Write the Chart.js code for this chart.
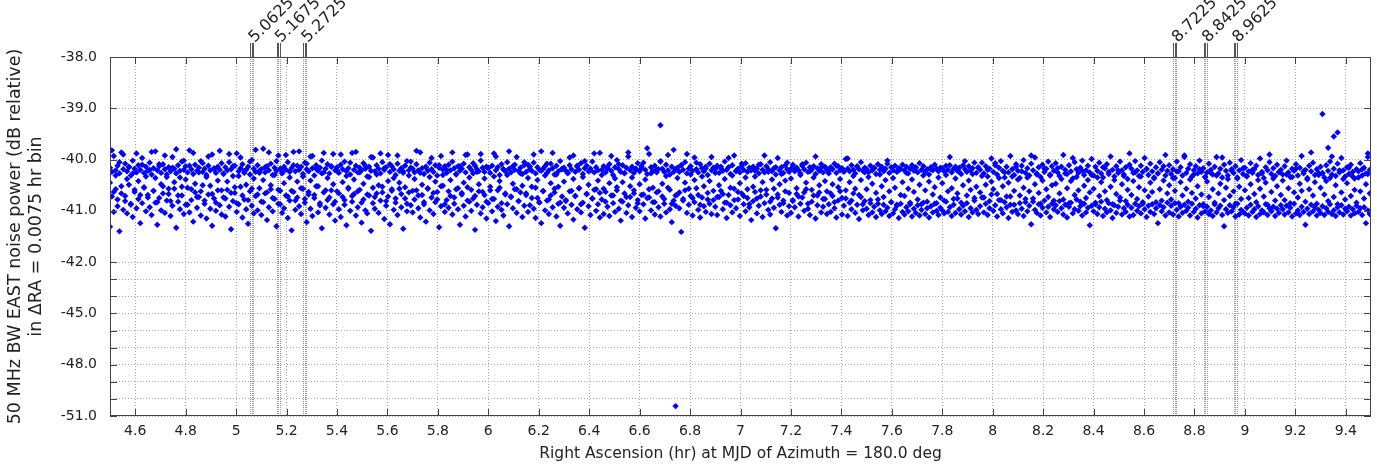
<!DOCTYPE html>
<html>
<head>
<meta charset="utf-8">
<script src="https://cdn.jsdelivr.net/npm/chart.js@4.4.1/dist/chart.umd.min.js"></script>
<style>
  html, body { margin: 0; padding: 0; background: #fff; }
</style>
</head>
<body>
<canvas id="noiseChart" width="1377" height="469"></canvas>
<script>
// RA bins: first bin at 4.5 hr, width 0.0075 hr (as in the axis title)
const binStart = 4.5;
const binWidth = 0.0075;

// noise power per RA bin (dB), three passes over the same RA range
const dayA = [
  -40.16,-40.24,-39.93,-40.21,-40.12,-40.27,-39.86,-40.19,-40.08,-40.23,-40.15,-40.31,-40.02,-40.18,-40.25,-40.11,-40.20,-39.97,-40.26,-40.14,
  -40.22,-40.06,-40.29,-40.17,-39.84,-40.21,-40.13,-40.26,-40.09,-40.19,-40.34,-40.15,-40.23,-39.95,-40.18,-40.27,-40.11,-40.22,-40.04,-40.20,
  -40.13,-40.25,-39.82,-40.19,-40.28,-40.10,-40.22,-40.16,-40.03,-40.24,-40.18,-40.30,-40.12,-40.21,-39.90,-40.17,-40.26,-40.14,-40.20,-40.07,
  -40.27,-40.15,-40.21,-40.05,-40.19,-40.32,-40.12,-39.88,-40.23,-40.17,-40.09,-40.26,-40.20,-40.14,-40.29,-40.01,-40.18,-40.24,-40.11,-40.22,
  -40.19,-39.79,-40.25,-40.13,-40.21,-40.08,-40.30,-40.16,-40.22,-39.92,-40.18,-40.27,-40.14,-40.20,-40.05,-40.24,-40.17,-39.85,-40.23,-40.12,
  -40.20,-40.14,-40.28,-40.06,-40.19,-40.23,-39.94,-40.17,-40.31,-40.11,-40.22,-40.16,-40.02,-40.25,-40.18,-40.09,-40.27,-40.13,-39.89,-40.21,
  -40.15,-40.26,-40.10,-40.19,-40.04,-40.23,-40.17,-40.29,-39.87,-40.20,-40.12,-40.25,-40.16,-40.21,-40.07,-40.18,-40.33,-40.14,-40.22,-39.96,
  -40.23,-40.11,-40.18,-40.27,-40.05,-40.20,-40.15,-39.91,-40.24,-40.13,-40.19,-40.30,-40.08,-40.22,-40.17,-40.26,-40.12,-40.03,-40.21,-40.16,
  -40.18,-40.25,-40.09,-40.21,-39.86,-40.17,-40.28,-40.14,-40.22,-40.06,-40.19,-40.24,-40.11,-40.31,-40.16,-39.93,-40.20,-40.13,-40.26,-40.10,
  -40.21,-40.04,-40.17,-40.29,-40.13,-40.22,-40.18,-40.08,-40.25,-39.90,-40.15,-40.20,-40.27,-40.12,-40.19,-40.23,-40.02,-40.16,-40.24,-40.14,
  -40.17,-40.26,-40.12,-39.88,-40.21,-40.15,-40.30,-40.09,-40.19,-40.23,-40.05,-40.18,-40.25,-40.13,-40.20,-39.95,-40.22,-40.16,-40.28,-40.11,
  -40.24,-40.10,-40.19,-40.22,-40.06,-40.27,-40.15,-40.20,-39.84,-40.18,-40.13,-40.26,-40.21,-40.08,-40.17,-40.29,-40.12,-40.23,-40.03,-40.19,
  -40.16,-40.22,-40.27,-40.11,-40.19,-39.92,-40.24,-40.14,-40.20,-40.07,-40.28,-40.17,-40.12,-40.23,-40.18,-40.04,-40.25,-40.15,-40.21,-39.87,
  -40.20,-40.13,-40.25,-40.18,-40.09,-40.22,-40.30,-40.15,-40.01,-40.19,-40.24,-40.11,-40.27,-40.16,-39.94,-40.21,-40.14,-40.26,-40.18,-40.07,
  -40.23,-40.17,-40.06,-40.20,-40.28,-39.89,-40.15,-40.22,-40.12,-40.25,-40.19,-40.03,-40.18,-40.24,-40.10,-40.21,-40.29,-40.14,-39.81,-40.19,
  -40.16,-40.24,-40.11,-40.20,-40.05,-40.27,-40.18,-40.13,-40.22,-39.96,-40.19,-40.25,-40.09,-40.17,-40.23,-40.14,-40.30,-40.08,-40.21,-40.16,
  -40.19,-40.12,-40.26,-40.17,-40.22,-40.04,-40.20,-40.15,-40.28,-40.11,-39.92,-40.23,-40.18,-40.25,-40.13,-40.20,-40.07,-40.24,-40.16,-40.21,
  -40.14,-40.22,-40.18,-40.27,-40.09,-40.20,-40.25,-40.13,-40.19,-40.05,-40.23,-40.17,-40.29,-39.97,-40.21,-40.15,-40.26,-40.11,-40.19,-40.24,
  -40.18,-40.10,-40.23,-40.16,-40.21,-40.27,-40.12,-40.19,-40.06,-40.24,-40.15,-40.20,-40.13,-40.28,-40.17,-40.22,-40.09,-40.25,-40.14,-40.20,
  -40.22,-40.15,-40.19,-40.08,-40.26,-40.13,-40.21,-40.17,-40.24,-39.99,-40.18,-40.23,-40.11,-40.20,-40.27,-40.14,-40.19,-40.05,-40.22,-40.16,
  -40.19,-40.25,-40.12,-40.21,-40.16,-40.28,-40.09,-40.20,-40.14,-40.23,-40.18,-40.02,-40.26,-40.15,-40.21,-40.12,-40.24,-40.17,-40.19,-40.10,
  -40.21,-40.14,-40.27,-40.18,-40.11,-40.22,-40.16,-40.25,-40.07,-40.20,-40.13,-40.24,-40.19,-40.29,-40.15,-40.21,-40.10,-40.18,-40.23,-40.16,
  -40.17,-40.23,-40.12,-40.20,-39.95,-40.25,-40.18,-40.14,-40.22,-40.16,-40.28,-40.11,-40.19,-40.24,-40.13,-40.21,-40.17,-40.06,-40.26,-40.15,
  -40.20,-40.06,-40.27,-40.13,-40.33,-40.18,-39.98,-40.24,-40.11,-40.29,-40.16,-40.03,-40.22,-40.35,-40.14,-40.25,-39.93,-40.19,-40.30,-40.09,
  -40.22,-40.36,-40.12,-40.01,-40.26,-40.17,-40.31,-40.08,-40.21,-39.96,-40.27,-40.15,-40.34,-40.10,-40.24,-40.18,-40.04,-40.29,-40.13,-40.22,
  -40.07,-40.25,-40.32,-40.14,-39.91,-40.20,-40.28,-40.11,-40.23,-40.37,-40.05,-40.19,-40.26,-40.16,-40.02,-40.30,-40.21,-40.12,-40.25,-39.99,
  -40.31,-40.14,-40.22,-40.06,-40.27,-40.35,-40.17,-40.09,-40.24,-39.94,-40.20,-40.33,-40.13,-40.26,-40.04,-40.21,-40.29,-40.15,-40.38,-40.10,
  -40.18,-40.26,-40.03,-40.21,-40.32,-40.12,-40.24,-39.97,-40.19,-40.30,-40.08,-40.23,-40.35,-40.15,-40.27,-40.05,-40.20,-40.13,-40.31,-40.22,
  -40.11,-40.28,-40.19,-40.36,-40.04,-40.23,-40.15,-40.31,-39.92,-40.26,-40.18,-40.09,-40.33,-40.21,-40.13,-40.27,-40.02,-40.24,-40.17,-40.34,
  -40.25,-40.08,-40.20,-40.29,-40.14,-39.95,-40.27,-40.18,-40.35,-40.10,-40.22,-40.31,-40.06,-40.19,-40.26,-40.13,-40.37,-40.21,-40.01,-40.28,
  -40.16,-40.33,-40.23,-40.07,-40.26,-40.19,-40.12,-40.30,-39.98,-40.24,-40.36,-40.15,-40.21,-40.05,-40.28,-40.17,-40.32,-40.10,-40.25,-40.20,
  -40.29,-40.13,-40.02,-40.25,-40.34,-40.18,-40.22,-40.09,-40.31,-40.16,-39.93,-40.27,-40.20,-40.36,-40.12,-40.23,-40.06,-40.30,-40.19,-40.26,
  -40.14,-40.27,-40.35,-40.11,-40.22,-40.04,-40.29,-40.18,-40.32,-40.08,-40.25,-39.97,-40.21,-40.33,-40.15,-40.28,-40.10,-40.24,-40.37,-40.19,
  -40.23,-40.07,-40.31,-40.16,-40.27,-39.95,-40.20
];

const dayB = [
  -40.45,-39.82,-40.63,-40.31,-40.78,-40.05,-40.52,-39.90,-40.71,-40.38,-40.14,-40.86,-40.27,-40.59,-39.88,-40.42,-40.69,-40.10,-40.55,-40.33,
  -40.74,-40.20,-39.85,-40.61,-40.36,-40.83,-40.09,-40.48,-40.66,-39.92,-40.29,-40.57,-40.81,-40.16,-40.44,-39.80,-40.70,-40.35,-40.53,-40.02,
  -40.39,-40.88,-40.12,-40.58,-39.87,-40.47,-40.73,-40.25,-40.62,-40.07,-40.80,-40.34,-39.94,-40.51,-40.67,-40.19,-40.84,-40.41,-39.83,-40.60,
  -40.28,-40.76,-40.43,-39.89,-40.65,-40.13,-40.54,-40.85,-40.32,-39.96,-40.70,-40.22,-40.49,-40.79,-40.04,-40.57,-40.37,-39.81,-40.68,-40.26,
  -40.82,-40.40,-40.15,-40.64,-39.86,-40.50,-40.75,-40.30,-40.03,-40.59,-40.87,-40.24,-40.46,-39.91,-40.72,-40.35,-40.61,-40.11,-40.80,-40.43,
  -39.84,-40.56,-40.33,-40.77,-40.08,-40.63,-40.41,-39.93,-40.69,-40.18,-40.52,-40.85,-40.27,-39.87,-40.60,-40.36,-40.74,-40.14,-40.48,-40.82,
  -40.21,-40.66,-39.90,-40.44,-40.79,-40.32,-40.57,-40.06,-40.71,-40.39,-39.85,-40.62,-40.25,-40.84,-40.47,-40.12,-40.68,-40.34,-39.95,-40.55,
  -40.73,-40.29,-40.50,-39.88,-40.64,-40.17,-40.81,-40.42,-40.09,-40.58,-40.36,-40.76,-39.92,-40.45,-40.67,-40.23,-40.54,-40.86,-40.31,-40.04,
  -40.61,-40.38,-39.83,-40.70,-40.26,-40.49,-40.83,-40.15,-40.57,-40.34,-39.97,-40.65,-40.43,-40.78,-40.11,-40.52,-40.30,-40.87,-40.20,-40.62,
  -40.40,-39.86,-40.74,-40.28,-40.56,-40.13,-40.68,-40.45,-39.91,-40.80,-40.35,-40.59,-40.07,-40.71,-40.24,-40.48,-39.89,-40.63,-40.37,-40.82,
  -40.16,-40.53,-40.77,-40.33,-39.94,-40.60,-40.42,-40.85,-40.19,-40.66,-40.30,-39.84,-40.72,-40.47,-40.10,-40.58,-40.81,-40.27,-40.51,-40.05,
  -40.69,-40.36,-40.14,-40.75,-39.90,-40.55,-40.40,-40.83,-40.22,-40.62,-40.31,-40.08,-40.78,-40.46,-39.87,-40.64,-40.29,-40.53,-40.84,-40.18,
  -40.43,-40.79,-40.25,-39.96,-40.61,-40.38,-40.71,-40.12,-40.56,-40.87,-40.34,-40.03,-40.67,-40.49,-40.21,-40.76,-39.88,-40.58,-40.41,-40.65,
  -40.30,-40.57,-40.82,-40.15,-40.46,-39.93,-40.70,-40.37,-40.60,-40.09,-40.80,-40.44,-40.26,-40.73,-39.86,-40.52,-40.35,-40.66,-40.19,-40.85,
  -40.48,-40.13,-40.68,-40.39,-39.78,-40.74,-40.27,-40.55,-40.83,-40.20,-40.62,-40.04,-40.47,-40.77,-40.32,-39.91,-40.59,-40.86,-40.24,-40.70,
  -40.36,-40.64,-40.11,-40.80,-40.45,-39.89,-40.57,-40.29,-40.75,-40.40,-40.06,-40.69,-40.88,-40.33,-40.52,-40.17,-40.78,-40.42,-39.95,-40.61,
  -40.26,-40.73,-40.50,-40.14,-40.67,-40.38,-40.84,-39.97,-40.55,-40.31,-40.79,-40.22,-40.63,-40.46,-40.08,-40.71,-40.35,-40.58,-40.87,-40.18,
  -40.53,-40.33,-40.76,-40.10,-40.60,-40.44,-39.92,-40.68,-40.24,-40.82,-40.39,-40.57,-40.15,-40.74,-40.48,-40.28,-40.85,-40.41,-40.06,-40.65,
  -40.37,-40.81,-40.19,-40.56,-40.72,-40.30,-40.09,-40.64,-40.45,-40.86,-40.23,-40.59,-40.35,-39.94,-40.70,-40.50,-40.16,-40.77,-40.42,-40.62,
  -40.27,-40.66,-40.48,-40.83,-40.12,-40.54,-40.38,-40.75,-40.21,-40.60,-39.98,-40.44,-40.80,-40.32,-40.57,-40.13,-40.69,-40.40,-40.87,-40.25,
  -40.58,-40.34,-40.79,-40.47,-40.17,-40.65,-40.86,-40.29,-40.52,-40.73,-40.40,-40.08,-40.62,-40.83,-40.36,-40.55,-40.88,-40.21,-40.69,-40.44,
  -40.71,-40.26,-40.57,-40.84,-40.39,-40.63,-40.15,-40.78,-40.49,-40.87,-40.31,-40.60,-40.82,-40.43,-40.19,-40.68,-40.54,-40.85,-40.35,-40.74,
  -40.46,-40.80,-40.30,-40.62,-40.11,-40.56,-40.77,-40.37,-40.66,-40.24,-40.84,-40.50,-40.03,-40.70,-40.41,-40.59,-40.28,-40.75,-40.53,-40.16,
  -40.64,-40.32,-40.74,-40.49,-40.20,-40.81,-40.43,-40.58,-40.07,-40.67,-40.36,-40.79,-40.52,-40.25,-40.72,-40.45,-40.88,-40.33,-40.61,-40.14,
  -40.39,-40.70,-40.23,-40.55,-40.83,-40.35,-40.62,-39.92,-40.76,-40.48,-40.29,-40.65,-40.86,-40.41,-40.18,-40.58,-40.73,-40.31,-40.50,-40.80,
  -40.47,-40.17,-40.66,-40.38,-40.78,-40.27,-40.56,-40.85,-40.42,-39.97,-40.69,-40.34,-40.60,-40.82,-40.22,-40.51,-40.75,-40.40,-40.64,-40.30,
  -40.57,-40.84,-40.35,-40.71,-40.44,-40.15,-40.62,-40.79,-40.28,-40.53,-40.87,-40.40,-40.67,-40.21,-40.74,-40.48,-40.32,-40.81,-40.59,-39.88,
  -40.69,-40.42,-40.25,-40.77,-40.54,-40.33,-40.86,-40.60,-40.18,-40.72,-40.45,-40.63,-40.37,-40.83,-40.27,-40.58,-40.80,-40.41,-39.91,-40.66,
  -40.50,-40.78,-40.36,-40.61,-40.23,-40.85,-40.44,-40.70,-39.95,-40.57,-40.82,-40.39,-40.65,-40.29,-40.76,-40.52,-40.19,-40.68,-40.87,-40.34,
  -40.43,-40.73,-40.26,-40.58,-40.84,-40.31,-40.66,-40.47,-39.96,-40.79,-40.55,-40.38,-40.71,-40.22,-40.62,-40.86,-40.35,-40.53,-40.77,-40.17,
  -40.60,-40.32,-40.75,-40.48,-40.20,-40.67,-40.83,-40.40,-40.57,-40.27,-40.72,-40.45,-40.88,-39.90,-40.63,-40.37,-40.80,-40.52,-40.24,-40.69,
  -40.41,-40.79,-40.29,-40.56,-40.85,-40.34,-40.64,-40.18,-40.74,-40.47,-40.61,-40.23,-40.82,-40.39,-40.58,-39.86,-40.70,-40.44,-40.86,-40.30,
  -40.55,-40.26,-40.68,-40.42,-40.81,-40.36,-39.94,-40.73,-40.50,-40.87,-40.21,-40.64,-40.38,-40.78,-40.46,-40.16,-40.71,-40.33,-40.59,-40.84,
  -40.35,-40.62,-40.19,-40.76,-40.48,-40.28,-40.66
];

const dayC = [
  -41.31,-40.72,-41.02,-40.58,-40.91,-41.40,-40.66,-40.98,-40.81,-41.05,-40.49,-40.88,-41.12,-40.63,-40.95,-40.77,-41.24,-40.85,-40.54,-41.01,
  -40.69,-40.93,-41.08,-40.61,-40.84,-41.27,-40.75,-40.99,-40.52,-41.04,-40.80,-40.67,-41.10,-40.90,-40.57,-41.33,-40.82,-40.97,-40.70,-41.06,
  -40.88,-40.55,-41.03,-40.79,-41.21,-40.64,-40.94,-40.73,-41.09,-40.50,-40.86,-41.15,-40.68,-40.96,-41.29,-40.76,-41.00,-40.60,-40.89,-41.07,
  -40.74,-41.11,-40.59,-40.92,-41.36,-40.81,-40.65,-41.02,-40.87,-40.53,-41.13,-40.78,-40.97,-41.25,-40.62,-40.90,-41.05,-40.71,-40.99,-40.56,
  -41.08,-40.83,-40.66,-41.18,-40.93,-40.58,-41.01,-40.77,-41.30,-40.86,-40.61,-41.04,-40.95,-40.70,-41.14,-40.80,-41.38,-40.63,-40.98,-40.74,
  -40.91,-41.06,-40.57,-40.84,-41.22,-40.68,-40.96,-41.10,-40.75,-40.52,-41.03,-40.89,-41.34,-40.64,-40.94,-40.79,-41.07,-40.60,-40.87,-41.19,
  -40.62,-40.97,-41.12,-40.73,-40.88,-41.28,-40.55,-41.00,-40.82,-40.67,-41.09,-40.93,-40.59,-41.23,-40.78,-40.99,-41.05,-40.70,-41.39,-40.85,
  -40.96,-40.66,-41.04,-40.80,-40.53,-41.16,-40.90,-40.72,-41.26,-40.61,-40.98,-40.84,-41.08,-40.57,-40.93,-41.35,-40.76,-41.01,-40.64,-40.89,
  -41.03,-40.78,-40.60,-40.95,-41.13,-40.69,-40.87,-41.21,-40.56,-40.99,-40.74,-41.06,-40.83,-40.63,-41.32,-40.91,-40.51,-41.02,-40.79,-40.94,
  -40.71,-41.07,-40.86,-40.58,-40.97,-41.27,-40.65,-40.90,-41.11,-40.54,-40.82,-41.00,-40.76,-41.37,-40.88,-40.62,-41.05,-40.93,-40.69,-41.15,
  -40.85,-40.60,-41.01,-40.77,-41.20,-40.92,-40.55,-40.98,-41.09,-40.68,-40.87,-41.30,-40.73,-40.95,-40.58,-41.04,-40.81,-40.64,-41.12,-40.90,
  -40.66,-41.02,-40.89,-40.53,-40.96,-41.14,-40.75,-40.84,-41.24,-40.61,-40.99,-40.80,-41.06,-40.70,-40.93,-40.57,-41.11,-40.86,-41.29,-40.72,
  -40.94,-40.81,-41.05,-40.62,-40.88,-41.17,-40.71,-40.97,-40.56,-41.03,-40.84,-41.33,-40.67,-40.91,-41.08,-40.76,-40.59,-41.00,-40.87,-41.13,
  -40.78,-41.06,-40.63,-40.92,-41.10,-40.70,-40.85,-41.02,-40.54,-40.96,-41.19,-40.82,-40.66,-41.04,-40.89,-40.73,-41.12,-40.60,-40.94,-40.79,
  -41.01,-40.69,-40.87,-41.15,-40.75,-40.58,-40.99,-40.83,-41.07,-40.64,-40.93,-41.11,-40.72,-40.86,-41.03,-40.55,-40.97,-41.22,-40.80,-40.90,
  -40.68,-40.95,-41.41,-40.77,-40.60,-41.04,-40.88,-40.71,-41.09,-40.83,-40.56,-40.98,-41.13,-40.74,-40.91,-41.02,-40.65,-40.86,-41.06,-40.79,
  -40.92,-41.08,-40.73,-40.61,-40.97,-40.84,-41.14,-40.69,-40.89,-41.03,-40.57,-40.95,-40.78,-41.10,-40.66,-40.87,-41.01,-40.75,-40.93,-41.18,
  -40.81,-40.63,-41.05,-40.90,-40.72,-41.12,-40.85,-40.59,-40.98,-41.07,-40.76,-40.94,-41.34,-40.68,-40.88,-41.02,-40.80,-40.62,-41.09,-40.91,
  -41.04,-40.79,-40.93,-40.67,-41.11,-40.86,-40.74,-41.00,-40.58,-40.96,-41.08,-40.82,-40.70,-41.15,-40.89,-40.64,-41.03,-40.92,-40.77,-41.06,
  -40.87,-41.02,-40.71,-40.95,-41.13,-40.80,-40.62,-41.07,-40.90,-40.76,-41.10,-40.84,-40.97,-40.66,-41.04,-40.88,-41.16,-40.73,-40.99,-40.81,
  -40.96,-41.08,-40.85,-41.03,-40.92,-41.12,-40.78,-40.99,-41.06,-40.88,-41.01,-40.94,-41.10,-40.83,-41.05,-40.97,-40.90,-41.14,-40.86,-41.02,
  -41.07,-40.93,-41.01,-40.87,-41.11,-40.96,-41.04,-40.89,-41.09,-40.98,-40.84,-41.06,-40.95,-41.13,-40.91,-41.03,-40.86,-41.00,-41.08,-40.94,
  -40.99,-41.05,-40.82,-41.02,-40.93,-41.10,-40.88,-41.04,-40.76,-40.97,-41.07,-40.90,-41.01,-40.85,-41.12,-40.95,-41.03,-40.80,-40.98,-41.06,
  -40.91,-40.74,-41.03,-40.86,-41.08,-40.95,-40.68,-41.00,-40.89,-41.11,-40.79,-40.97,-41.05,-40.83,-40.93,-41.14,-40.72,-41.02,-40.88,-40.99,
  -41.06,-40.85,-40.96,-41.10,-40.77,-41.01,-40.90,-41.26,-40.82,-40.98,-41.04,-40.87,-41.09,-40.94,-40.80,-41.03,-40.92,-41.12,-40.86,-40.97,
  -40.89,-41.02,-40.81,-40.95,-41.07,-40.88,-41.13,-40.92,-40.84,-41.05,-40.97,-40.78,-41.00,-40.91,-41.09,-40.86,-41.03,-40.94,-41.28,-40.90,
  -41.01,-40.87,-41.06,-40.93,-40.82,-41.10,-40.96,-41.03,-40.85,-40.99,-41.14,-40.89,-41.04,-40.92,-40.80,-41.07,-40.95,-41.02,-40.88,-41.11,
  -40.94,-41.08,-40.86,-41.00,-40.91,-41.05,-40.83,-40.97,-41.12,-40.90,-41.02,-40.87,-41.06,-40.95,-41.24,-40.89,-41.01,-40.93,-41.09,-40.84,
  -41.03,-40.90,-41.07,-40.85,-40.98,-41.11,-40.92,-41.04,-40.88,-41.00,-40.94,-41.09,-40.86,-41.02,-40.96,-41.13,-40.89,-41.05,-40.91,-41.01,
  -40.92,-41.06,-40.99,-41.10,-40.87,-41.03,-40.95,-40.90,-41.08,-41.30,-40.97,-41.04,-40.89,-41.01,-40.93,-41.11,-40.86,-41.07,-40.98,-41.02,
  -41.05,-40.94,-41.09,-40.88,-41.02,-40.97,-41.12,-40.91,-41.06,-40.99,-41.03,-40.87,-41.08,-40.95,-41.01,-40.92,-41.10,-40.96,-41.04,-40.89,
  -40.97,-41.07,-40.90,-41.03,-40.94,-41.11,-40.86,-41.05,-40.99,-41.08,-40.92,-41.02,-41.27,-40.96,-41.06,-40.88,-41.01,-40.93,-41.09,-40.98,
  -41.04,-40.91,-41.08,-40.95,-41.02,-40.87,-41.06,-40.99,-41.10,-40.93,-41.03,-40.89,-41.07,-40.96,-41.01,-40.92,-41.09,-40.97,-41.05,-40.90,
  -41.02,-40.95,-41.08,-40.93,-41.24,-40.99,-41.06
];

// isolated points
const outlierRA = [6.6825, 6.7425, 9.3075, 9.3525, 9.3675, 9.33, 9.4875];
const outlierDB = [-39.33, -50.42, -39.11, -39.55, -39.47, -39.77, -39.88];

// marked RA positions along the top
const markerRA = [5.0625, 5.1675, 5.2725, 8.7225, 8.8425, 8.9625];
const markerLabels = ['5.0625', '5.1675', '5.2725', '8.7225', '8.8425', '8.9625'];

const xTickValues = [4.6, 4.8, 5, 5.2, 5.4, 5.6, 5.8, 6, 6.2, 6.4, 6.6, 6.8, 7, 7.2, 7.4, 7.6, 7.8, 8, 8.2, 8.4, 8.6, 8.8, 9, 9.2, 9.4];
const xTickLabels = ['4.6', '4.8', '5', '5.2', '5.4', '5.6', '5.8', '6', '6.2', '6.4', '6.6', '6.8', '7', '7.2', '7.4', '7.6', '7.8', '8', '8.2', '8.4', '8.6', '8.8', '9', '9.2', '9.4'];
const yTickValues = [-38, -39, -40, -41, -42, -43, -44, -45, -46, -47, -48, -49, -50, -51];
const yTickLabels = ['-38.0', '-39.0', '-40.0', '-41.0', '-42.0', '', '', '-45.0', '', '', '-48.0', '', '', '-51.0'];

// below -42 dB the axis is compressed 3:1
function squash(v) { return v >= -42 ? v : -42 + (v + 42) / 3; }

function toPoints(series) {
  return series.map((v, i) => ({ x: binStart + i * binWidth, y: squash(v) }));
}

const FONT = 'DejaVu Sans';
const TXT = '#222';

const frame = {
  id: 'frame',
  beforeDatasetsDraw(chart) {
    const { ctx, chartArea: a, scales: { x } } = chart;
    ctx.save();
    ctx.strokeStyle = '#9a9a9a';
    ctx.lineWidth = 1;
    ctx.setLineDash([1, 1]);
    markerRA.forEach(m => {
      [-0.006, 0, 0.006].forEach(d => {
        const px = Math.round(x.getPixelForValue(m + d)) + 0.5;
        ctx.beginPath(); ctx.moveTo(px, a.top); ctx.lineTo(px, a.bottom); ctx.stroke();
      });
    });
    ctx.restore();
  },
  afterDatasetsDraw(chart) {
    const { ctx, chartArea: a, scales: { x, y } } = chart;
    ctx.save();
    ctx.strokeStyle = '#444';
    ctx.lineWidth = 1;
    ctx.strokeRect(Math.round(a.left) + 0.5, Math.round(a.top) + 0.5, Math.round(a.right - a.left) - 1, Math.round(a.bottom - a.top) - 1);
    // inward ticks, mirrored
    const tl = 7;
    ctx.beginPath();
    xTickValues.forEach(v => {
      const px = Math.round(x.getPixelForValue(v)) + 0.5;
      ctx.moveTo(px, a.bottom); ctx.lineTo(px, a.bottom - tl);
      ctx.moveTo(px, a.top); ctx.lineTo(px, a.top + tl);
    });
    yTickValues.forEach(v => {
      const py = Math.round(y.getPixelForValue(squash(v))) + 0.5;
      ctx.moveTo(a.left, py); ctx.lineTo(a.left + tl, py);
      ctx.moveTo(a.right, py); ctx.lineTo(a.right - tl, py);
    });
    ctx.stroke();
    // marker bars above the frame and their labels
    ctx.strokeStyle = '#555';
    markerRA.forEach((m, i) => {
      ctx.beginPath();
      [-0.006, 0, 0.006].forEach(d => {
        const px = Math.round(x.getPixelForValue(m + d)) + 0.5;
        ctx.moveTo(px, a.top - 14); ctx.lineTo(px, a.top);
      });
      ctx.stroke();
      const cx = x.getPixelForValue(m);
      ctx.save();
      ctx.translate(cx + 3, a.top - 14);
      ctx.rotate(-Math.PI / 4);
      ctx.fillStyle = TXT;
      ctx.font = '16px "' + FONT + '"';
      ctx.textAlign = 'left';
      ctx.textBaseline = 'alphabetic';
      ctx.fillText(markerLabels[i], 0, 0);
      ctx.restore();
    });
    ctx.restore();
  }
};

const ctx = document.getElementById('noiseChart').getContext('2d');
const dotStyle = { pointStyle: 'rectRot', pointRadius: 3.2, pointBorderWidth: 0, backgroundColor: '#0000ff', borderColor: '#0000ff', showLine: false };

new Chart(ctx, {
  type: 'scatter',
  data: {
    datasets: [
      Object.assign({ label: 'A', data: toPoints(dayA) }, dotStyle),
      Object.assign({ label: 'B', data: toPoints(dayB) }, dotStyle),
      Object.assign({ label: 'C', data: toPoints(dayC) }, dotStyle),
      Object.assign({ label: 'outliers', data: outlierRA.map((r, i) => ({ x: r, y: squash(outlierDB[i]) })) }, dotStyle)
    ]
  },
  options: {
    responsive: false,
    animation: false,
    events: [],
    layout: { padding: { top: 57, right: 6, left: 0, bottom: 0 } },
    plugins: { legend: { display: false }, tooltip: { enabled: false } },
    scales: {
      x: {
        type: 'linear',
        min: 4.5,
        max: 9.5,
        afterBuildTicks: s => { s.ticks = xTickValues.map(v => ({ value: v })); },
        afterFit: s => { s.height = 53; },
        grid: { color: '#a8a8a8', lineWidth: 1, drawTicks: false },
        border: { display: false, dash: [1, 2] },
        ticks: {
          autoSkip: false, maxRotation: 0, padding: 7, color: TXT,
          font: { family: FONT, size: 14 },
          callback: (v, i) => xTickLabels[i]
        },
        title: {
          display: true,
          text: 'Right Ascension (hr) at MJD of Azimuth = 180.0 deg',
          color: TXT,
          font: { family: FONT, size: 15.5 },
          padding: { top: 0, bottom: 6 }
        }
      },
      y: {
        type: 'linear',
        min: squash(-51),
        max: -38,
        afterBuildTicks: s => { s.ticks = yTickValues.map(v => ({ value: squash(v) })); },
        afterFit: s => { s.width = 110; },
        grid: { color: '#a8a8a8', lineWidth: 1, drawTicks: false },
        border: { display: false, dash: [1, 2] },
        ticks: {
          autoSkip: false, padding: 13, color: TXT,
          font: { family: FONT, size: 14 },
          callback: (v, i) => yTickLabels[i]
        },
        title: {
          display: true,
          text: ['50 MHz BW EAST noise power (dB relative)', 'in \u0394RA = 0.0075 hr bin'],
          color: TXT,
          font: { family: FONT, size: 17.5, lineHeight: 1.2 },
          padding: { top: 5, bottom: 0 }
        }
      }
    }
  },
  plugins: [frame]
});
</script>
</body>
</html>
